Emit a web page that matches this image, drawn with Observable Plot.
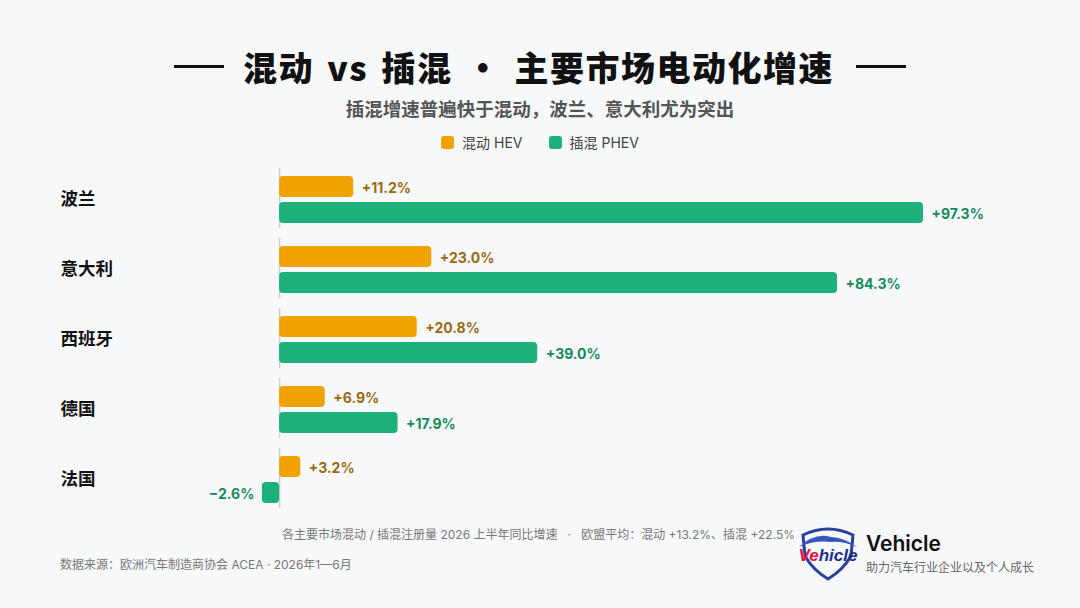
<!DOCTYPE html>
<html>
<head>
<meta charset="utf-8">
<script src="https://cdn.jsdelivr.net/npm/d3@7"></script>
<script src="https://cdn.jsdelivr.net/npm/@observablehq/plot@0.6"></script>
<style>
  html, body { margin: 0; padding: 0; background: #F7F8FA; }
  body { width: 1080px; height: 608px; position: relative; overflow: hidden;
         font-family: "Inter", "Noto Sans CJK SC", sans-serif; }
  .abs { position: absolute; }
  #title { left: 0; width: 1080px; top: 42px; display: flex; justify-content: center; align-items: center;
           font-size: 34px; font-weight: 800; color: #111; letter-spacing: 1.5px; word-spacing: 4px;
           font-family: "Noto Sans CJK SC", sans-serif; }
  #title .dash { width: 50px; height: 3px; background: #111; }
  #title .dash.l { margin-right: 19px; }
  #title .dash.r { margin-left: 22px; }
  #subtitle { left: 0; width: 1080px; top: 95px; text-align: center; font-size: 18.5px; font-weight: 700; color: #555; }
  #legend { left: 0; width: 1080px; top: 132px; display: flex; justify-content: center; align-items: center;
            font-size: 14px; color: #444; }
  #legend .sw { width: 13px; height: 13px; border-radius: 3px; display: inline-block; margin-right: 8px; }
  #legend .item { display: flex; align-items: center; margin: 0 13px; }
  #chart { left: 0; top: 160px; }
  #note { right: 285px; top: 525px; font-size: 12px; color: #777; white-space: pre; }
  #source { left: 60px; top: 555px; font-size: 12px; color: #777; }
  #logo { left: 795px; top: 525px; }
  #brand { left: 866px; top: 531px; font-size: 21px; font-weight: 600; color: #111; font-family: "Inter", sans-serif; }
  #tag { left: 866px; top: 558px; font-size: 12px; color: #666; }
</style>
</head>
<body>
<div id="title" class="abs"><span class="dash l"></span><span>混动 vs 插混 · 主要市场电动化增速</span><span class="dash r"></span></div>
<div id="subtitle" class="abs">插混增速普遍快于混动，波兰、意大利尤为突出</div>
<div id="legend" class="abs"></div>
<div id="chart" class="abs"></div>
<div id="note" class="abs">各主要市场混动 / 插混注册量 2026 上半年同比增速   ·   欧盟平均：混动 +13.2%、插混 +22.5%</div>
<div id="source" class="abs">数据来源：欧洲汽车制造商协会 ACEA · 2026年1—6月</div>
<svg id="logo" class="abs" width="66" height="56" viewBox="0 0 66 56">
  <path d="M8 10 Q33 -2 58 10 L56 31 Q48 45 33 54 Q18 45 10 31 Z" fill="none" stroke="#2B3F9E" stroke-width="3"/>
  <path d="M4 22 Q20 7 36 12 Q48 12 62 22 Q48 16 36 17 Q20 15 4 22 Z" fill="#3a55c0"/>
  <text x="33" y="36" text-anchor="middle" font-family="Liberation Sans, Arial, sans-serif" font-size="17" font-weight="700" font-style="italic"><tspan fill="#E5153D">Ve</tspan><tspan fill="#1E2F8A">hicle</tspan></text>
</svg>
<div id="brand" class="abs">Vehicle</div>
<div id="tag" class="abs">助力汽车行业企业以及个人成长</div>
<script>
const countries = ["波兰", "意大利", "西班牙", "德国", "法国"];
const hevValues = [11.2, 23.0, 20.8, 6.9, 3.2];
const phevValues = [97.3, 84.3, 39.0, 17.9, -2.6];
const seriesNames = ["混动 HEV", "插混 PHEV"];
const seriesKeys = ["HEV", "PHEV"];
const barColors = ["#F0A300", "#1EB07B"];
const labelColors = ["#9A6A10", "#178A5E"];

const rows = [];
countries.forEach((c, i) => {
  rows.push({country: c, series: "HEV", value: hevValues[i]});
  rows.push({country: c, series: "PHEV", value: phevValues[i]});
});
const fmt = v => (v >= 0 ? "+" : "−") + Math.abs(v).toFixed(1) + "%";
const labelFill = d => labelColors[seriesKeys.indexOf(d.series)];

// legend
const legend = document.getElementById("legend");
seriesNames.forEach((n, i) => {
  const it = document.createElement("div");
  it.className = "item";
  it.innerHTML = `<span class="sw" style="background:${barColors[i]}"></span><span>${n}</span>`;
  legend.appendChild(it);
});

const chart = Plot.plot({
  width: 1080,
  height: 353,
  marginTop: 15,
  marginBottom: 10,
  marginLeft: 246,
  marginRight: 106,
  style: {background: "transparent", fontFamily: "Inter, 'Noto Sans CJK SC', sans-serif"},
  x: {domain: [-5, 105], axis: null},
  y: {domain: seriesKeys, paddingInner: 0.2, paddingOuter: 0, axis: null},
  fy: {domain: countries, paddingInner: 0.3143, paddingOuter: 0, axis: null},
  color: {domain: seriesKeys, range: barColors},
  marks: [
    Plot.ruleX(countries, {x: () => 0, fy: d => d, stroke: "#CFCFCF", strokeWidth: 1.5, insetTop: -7, insetBottom: -5}),
    Plot.barX(rows, {x: "value", y: "series", fy: "country", fill: "series", rx: 4}),
    Plot.text(rows.filter(d => d.value >= 0), {
      x: "value", y: "series", fy: "country",
      text: d => fmt(d.value), textAnchor: "start", dx: 8, dy: 2,
      fill: labelFill, fontSize: 14, fontWeight: 700
    }),
    Plot.text(rows.filter(d => d.value < 0), {
      x: "value", y: "series", fy: "country",
      text: d => fmt(d.value), textAnchor: "end", dx: -8, dy: 2,
      fill: labelFill, fontSize: 14, fontWeight: 700
    }),
    Plot.text(countries, {
      fy: d => d, text: d => d, frameAnchor: "left", dx: -186, textAnchor: "start",
      fontSize: 17.5, fontWeight: 700, fill: "#111"
    })
  ]
});
document.getElementById("chart").appendChild(chart);
</script>
</body>
</html>
